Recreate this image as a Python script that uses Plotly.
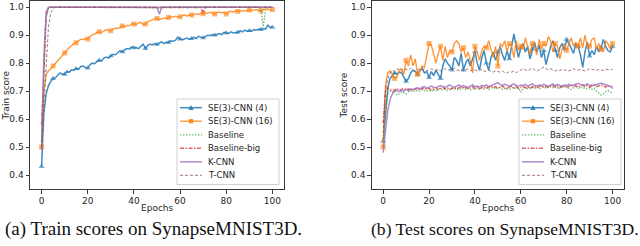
import plotly.graph_objects as go

# ---------------- data ----------------
epochs = list(range(101))

train_se3_4 = [
    0.430, 0.620, 0.690, 0.720, 0.735, 0.745, 0.748, 0.755, 0.765, 0.760,
    0.760, 0.772, 0.768, 0.776, 0.774, 0.780, 0.778, 0.788, 0.790, 0.784,
    0.782, 0.795, 0.800, 0.798, 0.806, 0.810, 0.808, 0.818, 0.822, 0.818,
    0.826, 0.832, 0.830, 0.836, 0.845, 0.840, 0.848, 0.852, 0.850, 0.858,
    0.855, 0.856, 0.852, 0.860, 0.868, 0.852, 0.864, 0.868, 0.865, 0.870,
    0.867, 0.872, 0.876, 0.870, 0.875, 0.874, 0.880, 0.878, 0.882, 0.893,
    0.886, 0.884, 0.888, 0.890, 0.885, 0.888, 0.892, 0.888, 0.896, 0.893,
    0.890, 0.896, 0.900, 0.898, 0.902, 0.900, 0.903, 0.906, 0.902, 0.910,
    0.908, 0.906, 0.912, 0.908, 0.910, 0.910, 0.916, 0.912, 0.918, 0.914,
    0.916, 0.915, 0.920, 0.918, 0.922, 0.920, 0.924, 0.922, 0.936, 0.928,
    0.928]

train_se3_16 = [
    0.500, 0.700, 0.758, 0.773, 0.780, 0.790, 0.798, 0.808, 0.818, 0.826,
    0.836, 0.846, 0.856, 0.862, 0.870, 0.873, 0.880, 0.886, 0.884, 0.888,
    0.886, 0.896, 0.902, 0.904, 0.910, 0.912, 0.910, 0.914, 0.920, 0.916,
    0.916, 0.922, 0.925, 0.924, 0.930, 0.933, 0.930, 0.935, 0.934, 0.940,
    0.940, 0.938, 0.944, 0.946, 0.938, 0.940, 0.948, 0.952, 0.955, 0.958,
    0.960, 0.957, 0.958, 0.962, 0.960, 0.963, 0.966, 0.964, 0.968, 0.965,
    0.966, 0.970, 0.972, 0.968, 0.973, 0.972, 0.975, 0.976, 0.974, 0.978,
    0.977, 0.980, 0.978, 0.982, 0.980, 0.976, 0.981, 0.983, 0.980, 0.982,
    0.976, 0.984, 0.985, 0.983, 0.986, 0.985, 0.987, 0.988, 0.986, 0.989,
    0.990, 0.988, 0.990, 0.991, 0.989, 0.987, 0.992, 0.993, 0.994, 0.990,
    0.992]

train_baseline = [
    0.520, 0.740, 0.960, 0.995, 1.000, 1.000, 1.000, 1.000, 1.000, 1.000,
    1.000, 1.000, 1.000, 1.000, 1.000, 1.000, 1.000, 1.000, 1.000, 1.000,
    1.000, 1.000, 1.000, 1.000, 1.000, 1.000, 1.000, 1.000, 1.000, 1.000,
    1.000, 1.000, 1.000, 1.000, 1.000, 1.000, 1.000, 1.000, 1.000, 1.000,
    1.000, 1.000, 1.000, 1.000, 1.000, 1.000, 1.000, 1.000, 1.000, 1.000,
    0.998, 0.996, 0.999, 1.000, 1.000, 1.000, 1.000, 1.000, 1.000, 1.000,
    1.000, 1.000, 1.000, 1.000, 1.000, 1.000, 1.000, 1.000, 1.000, 1.000,
    1.000, 1.000, 1.000, 1.000, 1.000, 1.000, 1.000, 1.000, 1.000, 1.000,
    1.000, 1.000, 1.000, 1.000, 1.000, 1.000, 1.000, 1.000, 1.000, 1.000,
    1.000, 1.000, 1.000, 1.000, 1.000, 0.995, 0.930, 0.990, 1.000, 1.000,
    1.000]

train_baseline_big = [
    0.580, 0.780, 0.970, 1.000, 1.000, 1.000, 1.000, 1.000, 1.000, 1.000,
    1.000, 1.000, 1.000, 1.000, 1.000, 1.000, 1.000, 1.000, 1.000, 1.000,
    1.000, 1.000, 1.000, 1.000, 1.000, 1.000, 1.000, 1.000, 1.000, 1.000,
    1.000, 1.000, 1.000, 1.000, 1.000, 1.000, 1.000, 1.000, 1.000, 1.000,
    1.000, 1.000, 1.000, 1.000, 1.000, 1.000, 1.000, 1.000, 1.000, 1.000,
    1.000, 1.000, 1.000, 1.000, 1.000, 1.000, 1.000, 1.000, 1.000, 1.000,
    1.000, 1.000, 1.000, 1.000, 1.000, 1.000, 1.000, 1.000, 1.000, 0.999,
    0.980, 1.000, 1.000, 1.000, 1.000, 1.000, 1.000, 1.000, 1.000, 1.000,
    1.000, 1.000, 1.000, 1.000, 1.000, 1.000, 1.000, 1.000, 1.000, 1.000,
    1.000, 1.000, 1.000, 1.000, 1.000, 1.000, 1.000, 1.000, 1.000, 1.000,
    1.000]

train_kcnn = [
    0.490, 0.820, 0.985, 1.000, 1.000, 1.000, 1.000, 1.000, 1.000, 1.000,
    1.000, 1.000, 1.000, 1.000, 1.000, 1.000, 1.000, 1.000, 1.000, 1.000,
    1.000, 1.000, 1.000, 1.000, 1.000, 1.000, 1.000, 1.000, 1.000, 1.000,
    1.000, 1.000, 1.000, 1.000, 1.000, 1.000, 1.000, 1.000, 1.000, 1.000,
    1.000, 1.000, 1.000, 1.000, 1.000, 1.000, 1.000, 1.000, 1.000, 1.000,
    1.000, 0.975, 1.000, 1.000, 1.000, 1.000, 1.000, 1.000, 1.000, 1.000,
    1.000, 1.000, 1.000, 1.000, 1.000, 1.000, 1.000, 1.000, 1.000, 1.000,
    1.000, 1.000, 1.000, 1.000, 1.000, 1.000, 1.000, 1.000, 1.000, 1.000,
    1.000, 1.000, 1.000, 1.000, 1.000, 1.000, 1.000, 1.000, 1.000, 1.000,
    1.000, 1.000, 1.000, 1.000, 1.000, 1.000, 1.000, 1.000, 1.000, 1.000,
    1.000]

train_tcnn = [
    0.500, 0.660, 0.820, 0.930, 0.980, 0.995, 1.000, 1.000, 1.000, 1.000,
    1.000, 1.000, 1.000, 1.000, 1.000, 1.000, 1.000, 1.000, 1.000, 1.000,
    1.000, 1.000, 1.000, 1.000, 1.000, 1.000, 1.000, 1.000, 1.000, 1.000,
    1.000, 1.000, 1.000, 1.000, 1.000, 1.000, 1.000, 1.000, 1.000, 1.000,
    1.000, 1.000, 1.000, 1.000, 1.000, 1.000, 1.000, 1.000, 1.000, 1.000,
    1.000, 1.000, 1.000, 1.000, 1.000, 1.000, 1.000, 1.000, 1.000, 1.000,
    1.000, 1.000, 1.000, 1.000, 1.000, 1.000, 1.000, 1.000, 1.000, 1.000,
    1.000, 1.000, 1.000, 1.000, 1.000, 1.000, 1.000, 1.000, 1.000, 1.000,
    1.000, 1.000, 1.000, 1.000, 1.000, 1.000, 1.000, 1.000, 1.000, 1.000,
    1.000, 1.000, 1.000, 1.000, 1.000, 1.000, 1.000, 1.000, 1.000, 1.000,
    1.000]

test_se3_4 = [
    0.520, 0.620, 0.710, 0.745, 0.755, 0.765, 0.760, 0.768, 0.765, 0.750,
    0.735, 0.745, 0.765, 0.775, 0.770, 0.760, 0.775, 0.782, 0.765, 0.770,
    0.748, 0.770, 0.755, 0.775, 0.760, 0.745, 0.790, 0.815, 0.800, 0.790,
    0.775, 0.820, 0.810, 0.790, 0.835, 0.775, 0.800, 0.815, 0.790, 0.820,
    0.840, 0.800, 0.775, 0.820, 0.845, 0.800, 0.775, 0.820, 0.840, 0.810,
    0.840, 0.860, 0.830, 0.810, 0.845, 0.815, 0.860, 0.905, 0.860, 0.820,
    0.855, 0.870, 0.840, 0.860, 0.815, 0.850, 0.875, 0.840, 0.865, 0.820,
    0.845, 0.795, 0.830, 0.860, 0.880, 0.845, 0.820, 0.855, 0.870, 0.845,
    0.885, 0.870, 0.855, 0.835, 0.870, 0.860, 0.830, 0.785, 0.840, 0.875,
    0.825, 0.845, 0.830, 0.860, 0.840, 0.855, 0.885, 0.860, 0.845, 0.840,
    0.860]

test_se3_16 = [
    0.500, 0.720, 0.765, 0.772, 0.760, 0.745, 0.750, 0.775, 0.780, 0.760,
    0.810, 0.790, 0.830, 0.790, 0.815, 0.760, 0.770, 0.790, 0.785, 0.830,
    0.870, 0.865, 0.830, 0.800, 0.835, 0.860, 0.810, 0.860, 0.820, 0.845,
    0.840, 0.870, 0.880, 0.870, 0.840, 0.855, 0.820, 0.840, 0.810, 0.765,
    0.860, 0.840, 0.810, 0.845, 0.860, 0.855, 0.880, 0.850, 0.820, 0.860,
    0.790, 0.870, 0.860, 0.880, 0.840, 0.870, 0.860, 0.820, 0.880, 0.845,
    0.860, 0.850, 0.890, 0.860, 0.830, 0.870, 0.860, 0.830, 0.885, 0.850,
    0.870, 0.860, 0.895, 0.880, 0.840, 0.870, 0.860, 0.815, 0.850, 0.870,
    0.845, 0.870, 0.890, 0.860, 0.875, 0.860, 0.890, 0.855, 0.900, 0.860,
    0.860, 0.885, 0.890, 0.850, 0.870, 0.850, 0.840, 0.880, 0.870, 0.850,
    0.870]

test_baseline = [
    0.530, 0.630, 0.690, 0.700, 0.695, 0.700, 0.686, 0.690, 0.698, 0.694,
    0.690, 0.698, 0.700, 0.702, 0.698, 0.704, 0.700, 0.706, 0.702, 0.700,
    0.704, 0.698, 0.706, 0.700, 0.704, 0.710, 0.704, 0.708, 0.702, 0.706,
    0.710, 0.706, 0.710, 0.704, 0.708, 0.712, 0.706, 0.710, 0.704, 0.708,
    0.710, 0.706, 0.710, 0.714, 0.708, 0.712, 0.706, 0.710, 0.714, 0.708,
    0.710, 0.714, 0.706, 0.710, 0.712, 0.706, 0.710, 0.714, 0.708, 0.712,
    0.696, 0.710, 0.714, 0.708, 0.712, 0.716, 0.710, 0.714, 0.708, 0.712,
    0.716, 0.710, 0.714, 0.718, 0.712, 0.716, 0.710, 0.714, 0.718, 0.712,
    0.716, 0.710, 0.706, 0.712, 0.716, 0.710, 0.714, 0.710, 0.712, 0.708,
    0.712, 0.706, 0.710, 0.700, 0.694, 0.686, 0.690, 0.698, 0.702, 0.696,
    0.694]

test_baseline_big = [
    0.585, 0.700, 0.712, 0.706, 0.700, 0.704, 0.710, 0.702, 0.706, 0.710,
    0.704, 0.708, 0.702, 0.710, 0.706, 0.712, 0.704, 0.708, 0.712, 0.706,
    0.710, 0.704, 0.708, 0.712, 0.706, 0.710, 0.714, 0.708, 0.712, 0.706,
    0.710, 0.714, 0.708, 0.712, 0.716, 0.710, 0.714, 0.708, 0.712, 0.716,
    0.710, 0.714, 0.708, 0.712, 0.716, 0.710, 0.714, 0.718, 0.712, 0.716,
    0.710, 0.714, 0.718, 0.712, 0.708, 0.714, 0.718, 0.712, 0.716, 0.710,
    0.714, 0.718, 0.712, 0.716, 0.710, 0.714, 0.718, 0.712, 0.716, 0.720,
    0.714, 0.718, 0.712, 0.716, 0.720, 0.714, 0.718, 0.712, 0.716, 0.720,
    0.714, 0.718, 0.722, 0.716, 0.720, 0.714, 0.718, 0.722, 0.716, 0.720,
    0.714, 0.718, 0.722, 0.716, 0.720, 0.722, 0.718, 0.714, 0.720, 0.716,
    0.718]

test_kcnn = [
    0.480, 0.560, 0.630, 0.670, 0.690, 0.700, 0.702, 0.698, 0.704, 0.700,
    0.706, 0.702, 0.708, 0.704, 0.710, 0.712, 0.708, 0.714, 0.716, 0.710,
    0.714, 0.718, 0.714, 0.712, 0.716, 0.720, 0.716, 0.714, 0.718, 0.722,
    0.716, 0.714, 0.718, 0.722, 0.716, 0.720, 0.716, 0.714, 0.718, 0.722,
    0.716, 0.718, 0.714, 0.720, 0.718, 0.722, 0.716, 0.720, 0.724, 0.728,
    0.730, 0.724, 0.720, 0.724, 0.720, 0.718, 0.722, 0.726, 0.720, 0.718,
    0.722, 0.720, 0.724, 0.718, 0.722, 0.726, 0.720, 0.718, 0.722, 0.720,
    0.724, 0.720, 0.718, 0.722, 0.726, 0.720, 0.724, 0.720, 0.718, 0.722,
    0.720, 0.724, 0.720, 0.722, 0.726, 0.728, 0.724, 0.720, 0.722, 0.726,
    0.720, 0.722, 0.720, 0.724, 0.726, 0.728, 0.726, 0.724, 0.720, 0.716,
    0.710]

test_tcnn = [
    0.550, 0.700, 0.745, 0.765, 0.775, 0.770, 0.780, 0.775, 0.772, 0.780,
    0.778, 0.775, 0.782, 0.776, 0.770, 0.776, 0.780, 0.775, 0.778, 0.772,
    0.775, 0.780, 0.776, 0.774, 0.778, 0.772, 0.776, 0.780, 0.774, 0.778,
    0.776, 0.782, 0.776, 0.774, 0.778, 0.772, 0.776, 0.780, 0.775, 0.772,
    0.776, 0.772, 0.775, 0.778, 0.772, 0.770, 0.774, 0.772, 0.768, 0.772,
    0.770, 0.768, 0.772, 0.766, 0.765, 0.770, 0.768, 0.772, 0.766, 0.770,
    0.775, 0.780, 0.776, 0.772, 0.778, 0.782, 0.776, 0.772, 0.776, 0.780,
    0.786, 0.780, 0.776, 0.780, 0.775, 0.772, 0.776, 0.774, 0.778, 0.774,
    0.776, 0.772, 0.776, 0.780, 0.776, 0.775, 0.778, 0.775, 0.772, 0.776,
    0.780, 0.778, 0.775, 0.774, 0.778, 0.776, 0.774, 0.778, 0.776, 0.776,
    0.778]

series_names = ["SE(3)-CNN (4)", "SE(3)-CNN (16)", "Baseline",
                "Baseline-big", "K-CNN", "T-CNN"]
x_ticks = [0, 20, 40, 60, 80, 100]
y_ticks = [0.4, 0.5, 0.6, 0.7, 0.8, 0.9, 1.0]
x_title = "Epochs"
y_titles = ["Train score", "Test score"]
captions = ["(a) Train scores on SynapseMNIST3D.",
            "(b) Test scores on SynapseMNIST3D."]

# ---------------- styles ----------------
W, H = 640, 246
styles = [
    dict(color="rgba(31,119,180,0.85)", width=1.5, dash="solid", symbol="triangle-up", msize=5.5),
    dict(color="rgba(255,127,14,0.85)", width=1.3, dash="solid", symbol="square", msize=5),
    dict(color="rgba(44,160,44,0.7)", width=1.3, dash="1.5px,1.5px", symbol=None, msize=0),
    dict(color="rgba(214,39,40,0.7)", width=1.5, dash="4px,1.5px,1.5px,1.5px", symbol=None, msize=0),
    dict(color="rgba(148,103,189,0.75)", width=1.5, dash="solid", symbol=None, msize=0),
    dict(color="rgba(140,86,75,0.8)", width=1.0, dash="3px,2px", symbol=None, msize=0),
]

train_series = [train_se3_4, train_se3_16, train_baseline, train_baseline_big, train_kcnn, train_tcnn]
test_series = [test_se3_4, test_se3_16, test_baseline, test_baseline_big, test_kcnn, test_tcnn]

fig = go.Figure()

for xa, ya, data in [("x", "y", train_series), ("x2", "y2", test_series)]:
    for name, vals, st in zip(series_names, data, styles):
        if st["symbol"]:
            sizes = [st["msize"] if e % 5 == 0 else 0 for e in epochs]
            fig.add_trace(go.Scatter(
                x=epochs, y=vals, mode="lines+markers", name=name,
                xaxis=xa, yaxis=ya, showlegend=False,
                line=dict(color=st["color"], width=st["width"], dash=st["dash"]),
                marker=dict(symbol=st["symbol"], size=sizes, color=st["color"],
                            line=dict(width=0))))
        else:
            fig.add_trace(go.Scatter(
                x=epochs, y=vals, mode="lines", name=name,
                xaxis=xa, yaxis=ya, showlegend=False,
                line=dict(color=st["color"], width=st["width"], dash=st["dash"])))

def px(x):
    return x / W

def py(y):
    return 1 - y / H

axis_common = dict(
    showgrid=False, zeroline=False, showline=True, mirror=True,
    linecolor="#3a3a3a", linewidth=1, ticks="outside", ticklen=3.5,
    tickwidth=1, tickcolor="#3a3a3a",
    tickfont=dict(family="DejaVu Sans", size=9, color="#262626"),
)

fig.update_layout(
    width=W, height=H, margin=dict(l=0, r=0, t=0, b=0),
    paper_bgcolor="white", plot_bgcolor="white", showlegend=False,
    xaxis=dict(domain=[px(30), px(284)], range=[-5, 105], tickvals=x_ticks,
               anchor="y", **axis_common),
    yaxis=dict(domain=[py(189), py(0.5)], range=[0.35, 1.024], tickvals=y_ticks,
               tickformat=".1f", anchor="x", **axis_common),
    xaxis2=dict(domain=[px(371.7), px(624)], range=[-5, 105], tickvals=x_ticks,
                anchor="y2", **axis_common),
    yaxis2=dict(domain=[py(189), py(0.5)], range=[0.35, 1.024], tickvals=y_ticks,
                tickformat=".1f", anchor="x2", **axis_common),
)

annotations = []
shapes = []
lab_font = dict(family="DejaVu Sans", size=9, color="#262626")

# axis titles
for ytitle, xcenter_title, ylab_x in [(y_titles[0], 157, 5.5), (y_titles[1], 498, 343.5)]:
    annotations.append(dict(text=x_title, x=px(xcenter_title), y=py(208), xref="paper", yref="paper",
                            showarrow=False, xanchor="center", yanchor="middle", font=lab_font))
    annotations.append(dict(text=ytitle, x=px(ylab_x), y=py(96), xref="paper", yref="paper",
                            showarrow=False, xanchor="center", yanchor="middle", textangle=-90,
                            font=lab_font))

# captions
annotations.append(dict(text=captions[0], x=px(153), y=py(229), xref="paper", yref="paper",
                        showarrow=False, xanchor="center", yanchor="middle",
                        font=dict(family="Liberation Serif", size=19, color="#111")))
annotations.append(dict(text=captions[1], x=px(369), y=py(229), xref="paper", yref="paper",
                        showarrow=False, xanchor="left", yanchor="middle",
                        font=dict(family="Liberation Serif", size=17.6, color="#111")))

# legends (drawn compactly, as in the matplotlib original)
item_y = [107.7, 121.2, 134.8, 148.3, 161.8, 175.3]
for ox in [0, 342]:
    x0, x1 = ox + 177, ox + 279
    shapes.append(dict(type="rect", xref="paper", yref="paper",
                       x0=px(x0), x1=px(x1), y0=py(184.5), y1=py(99),
                       line=dict(color="#d0d0d0", width=1), fillcolor="rgba(255,255,255,0.85)",
                       layer="above"))
    for name, st, yy in zip(series_names, styles, item_y):
        shapes.append(dict(type="line", xref="paper", yref="paper",
                           x0=px(ox + 180), x1=px(ox + 202), y0=py(yy), y1=py(yy),
                           line=dict(color=st["color"], width=st["width"], dash=st["dash"]),
                           layer="above"))
        cx = ox + 191
        if st["symbol"] == "triangle-up":
            path = (f"M {px(cx-2.7)},{py(yy+2.2)} L {px(cx+2.7)},{py(yy+2.2)} "
                    f"L {px(cx)},{py(yy-2.6)} Z")
            shapes.append(dict(type="path", xref="paper", yref="paper", path=path,
                               fillcolor=st["color"], line=dict(width=0), layer="above"))
        elif st["symbol"] == "square":
            shapes.append(dict(type="rect", xref="paper", yref="paper",
                               x0=px(cx - 2.2), x1=px(cx + 2.2), y0=py(yy + 2.2), y1=py(yy - 2.2),
                               fillcolor=st["color"], line=dict(width=0), layer="above"))
        annotations.append(dict(text=name, x=px(ox + 206), y=py(yy), xref="paper", yref="paper",
                                showarrow=False, xanchor="left", yanchor="middle",
                                font=dict(family="DejaVu Sans", size=8.5, color="#262626")))

fig.update_layout(annotations=annotations, shapes=shapes)

fig.write_html("out.html",
               config={"displayModeBar": False},
               post_script="document.body.style.margin='0';document.body.style.overflow='hidden';")
